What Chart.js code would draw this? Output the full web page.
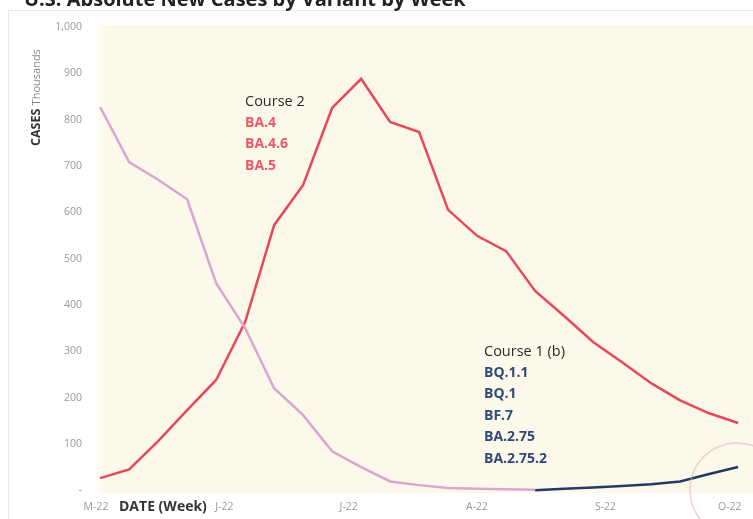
<!DOCTYPE html>
<html>
<head>
<meta charset="utf-8">
<script src="https://cdn.jsdelivr.net/npm/chart.js@4"></script>
<style>
  html, body { margin: 0; padding: 0; background: #ffffff; }
  #wrap { position: relative; width: 753px; height: 519px; overflow: hidden; }
  canvas { display: block; }
</style>
</head>
<body>
<div id="wrap"><canvas id="c" width="753" height="519"></canvas></div>
<script>
// ---- data (thousands of cases per week) ----
const weeks = ['2022-05-02','2022-05-09','2022-05-16','2022-05-23','2022-05-30','2022-06-06','2022-06-13','2022-06-20','2022-06-27','2022-07-04','2022-07-11','2022-07-18','2022-07-25','2022-08-01','2022-08-08','2022-08-15','2022-08-22','2022-08-29','2022-09-05','2022-09-12','2022-09-19','2022-09-26','2022-10-03'];
const course2 = [26, 45, 106, 173, 238, 363, 572, 659, 825, 888, 795, 773, 605, 549, 516, 430, 376, 320, 276, 231, 194, 166, 145];
const earlier = [827, 708, 670, 628, 447, 350, 220, 162, 84, 50, 19, 11, 5, 3, 2, 1, null, null, null, null, null, null, null];
const course1b = [null, null, null, null, null, null, null, null, null, null, null, null, null, null, null, 0, 3, 6, 9, 13, 19, 35, 50];
const monthTicks = ['2022-05-01','2022-06-01','2022-07-01','2022-08-01','2022-09-01','2022-10-01'];
const monthLabels = ['M-22','J-22','J-22','A-22','S-22','O-22'];
const yTicks = [0, 100, 200, 300, 400, 500, 600, 700, 800, 900, 1000];
const course2Labels = ['BA.4', 'BA.4.6', 'BA.5'];
const course1bLabels = ['BQ.1.1', 'BQ.1', 'BF.7', 'BA.2.75', 'BA.2.75.2'];
const titleText = 'U.S. Absolute New Cases by Variant by Week';

const DAY = 86400000;
const t0 = Date.parse(weeks[0]);
const dayOf = s => (Date.parse(s) - t0) / DAY;
const toPts = arr => weeks.map((w, i) => ({ x: dayOf(w), y: arr[i] }));
const monthDays = monthTicks.map(dayOf);

const FONT = "'Open Sans', 'Liberation Sans', sans-serif";

const decor = {
  id: 'decor',
  beforeDraw(chart) {
    const { ctx, chartArea: a } = chart;
    ctx.save();
    ctx.strokeStyle = '#e6e6e6';
    ctx.lineWidth = 1;
    ctx.beginPath();
    ctx.moveTo(8.5, 519); ctx.lineTo(8.5, 10.5); ctx.lineTo(753, 10.5);
    ctx.stroke();
    ctx.fillStyle = '#fdf9ea';
    ctx.fillRect(a.left, a.top, a.right - a.left, a.bottom - a.top);
    const g = ctx.createLinearGradient(a.left - 2, 0, a.left + 14, 0);
    g.addColorStop(0, 'rgba(255,255,255,1)');
    g.addColorStop(1, 'rgba(253,249,234,0)');
    ctx.fillStyle = g;
    ctx.fillRect(a.left - 2, a.top, 16, a.bottom - a.top);
    ctx.restore();
  },
  afterDraw(chart) {
    const { ctx } = chart;
    ctx.save();
    // cut-off title
    ctx.fillStyle = '#222';
    ctx.font = "bold 20px " + FONT;
    ctx.textBaseline = 'alphabetic';
    ctx.textAlign = 'left';
    ctx.fillText(titleText, 24, 6);

    // y axis title (rotated)
    ctx.translate(40, 146);
    ctx.rotate(-Math.PI / 2);
    ctx.textAlign = 'left';
    ctx.textBaseline = 'alphabetic';
    ctx.font = "bold 12.5px " + FONT;
    ctx.fillStyle = '#333';
    ctx.fillText('CASES', 0, 0);
    const w = ctx.measureText('CASES ').width;
    ctx.font = "11px " + FONT;
    ctx.fillStyle = '#8a8a8a';
    ctx.fillText('Thousands', w, 0);
    ctx.setTransform(1, 0, 0, 1, 0, 0);

    // x axis title
    ctx.font = "bold 14px " + FONT;
    ctx.fillStyle = '#333';
    ctx.textAlign = 'left';
    ctx.textBaseline = 'middle';
    ctx.fillText('DATE (Week)', 119, 507);

    // Course 2 annotation
    ctx.font = "14.5px " + FONT;
    ctx.fillStyle = '#2a2a2a';
    ctx.fillText('Course 2', 245, 102);
    ctx.font = "bold 14px " + FONT;
    ctx.fillStyle = '#ea5a66';
    course2Labels.forEach((s, i) => ctx.fillText(s, 245, 123 + i * 21.5));

    // Course 1 (b) annotation
    ctx.font = "14.5px " + FONT;
    ctx.fillStyle = '#2a2a2a';
    ctx.fillText('Course 1 (b)', 484, 352);
    ctx.font = "bold 14px " + FONT;
    ctx.fillStyle = '#2f4a7c';
    course1bLabels.forEach((s, i) => ctx.fillText(s, 484, 373 + i * 21.5));

    // faint highlight circle
    ctx.beginPath();
    ctx.arc(737, 490, 47, 0, Math.PI * 2);
    ctx.strokeStyle = 'rgba(228,170,185,0.55)';
    ctx.lineWidth = 1.5;
    ctx.stroke();
    ctx.restore();
  }
};

new Chart(document.getElementById('c'), {
  type: 'line',
  data: {
    datasets: [
      { label: 'Earlier', data: toPts(earlier), borderColor: '#d9a6cf', borderWidth: 2.5, pointRadius: 0, tension: 0, spanGaps: false },
      { label: 'Course 2', data: toPts(course2), borderColor: '#e8485a', borderWidth: 2.5, pointRadius: 0, tension: 0 },
      { label: 'Course 1 (b)', data: toPts(course1b), borderColor: '#233a66', borderWidth: 2.5, pointRadius: 0, tension: 0 }
    ]
  },
  options: {
    responsive: false,
    animation: false,
    layout: { padding: { left: 0, right: 0, top: 25, bottom: 0 } },
    plugins: { legend: { display: false }, tooltip: { enabled: false }, title: { display: false } },
    scales: {
      x: {
        type: 'linear',
        min: -1,
        max: 157.6,
        grid: { display: false, drawTicks: false },
        border: { display: false },
        afterBuildTicks: s => { s.ticks = monthDays.map(v => ({ value: v })); },
        afterFit: s => { s.height = 26; },
        ticks: {
          autoSkip: false, maxRotation: 0, padding: 8,
          color: '#9a9a9a', font: { family: FONT, size: 10.5 },
          callback: (v, i) => monthLabels[i]
        }
      },
      y: {
        min: -6,
        max: 1004,
        grid: { display: false, drawTicks: false },
        border: { display: false },
        afterBuildTicks: s => { s.ticks = yTicks.map(v => ({ value: v })); },
        afterFit: s => { s.width = 96; },
        ticks: {
          padding: 14,
          color: '#9a9a9a', font: { family: FONT, size: 10.5 },
          callback: v => v === 0 ? '-' : v.toLocaleString('en-US')
        }
      }
    }
  },
  plugins: [decor]
});
</script>
</body>
</html>
